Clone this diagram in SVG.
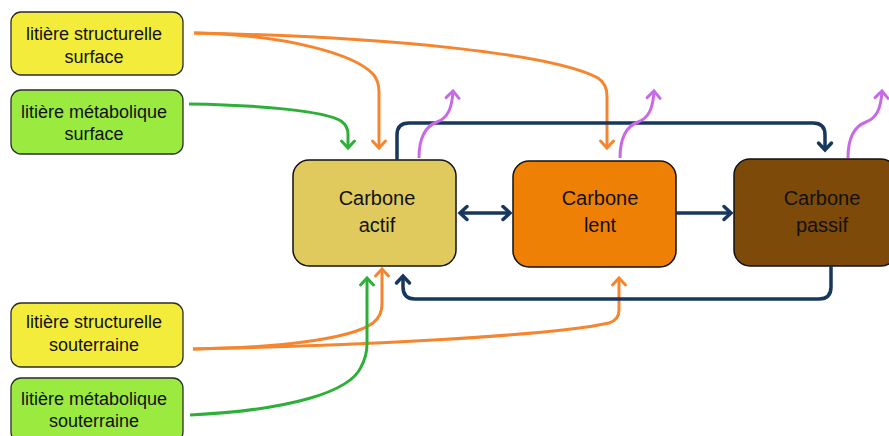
<svg xmlns="http://www.w3.org/2000/svg" width="889" height="436" viewBox="0 0 889 436">
<style>
.lit{stroke:#2b2b2b;stroke-width:1.3}
.ys{fill:#F4EC3A}
.gs{fill:#9AEA3F}
.t{font-family:"Liberation Sans",Arial,sans-serif;font-size:18px;fill:#111;text-anchor:middle}
.tc{font-family:"Liberation Sans",Arial,sans-serif;font-size:20px;fill:#111;text-anchor:middle}
.cb{stroke:#111;stroke-width:1.5}
.c{fill:none;stroke-linecap:butt;stroke-linejoin:round}
.o{stroke:#F5862F;stroke-width:3;marker-end:url(#mo)}
.g{stroke:#2DB038;stroke-width:3;marker-end:url(#mg)}
.n{stroke:#17375E;stroke-width:3.5;marker-end:url(#mn)}
.p{stroke:#C86AE8;stroke-width:3;marker-end:url(#mp)}
</style>
<defs>
<marker id="mo" markerUnits="userSpaceOnUse" viewBox="-10 -9 12 18" refX="0" refY="0" markerWidth="12" markerHeight="18" orient="auto" overflow="visible"><path d="M-7,-6.5 L0,0 L-7,6.5" fill="none" stroke="#F5862F" stroke-width="3" stroke-linecap="round"/></marker>
<marker id="mg" markerUnits="userSpaceOnUse" viewBox="-10 -9 12 18" refX="0" refY="0" markerWidth="12" markerHeight="18" orient="auto" overflow="visible"><path d="M-7,-6.5 L0,0 L-7,6.5" fill="none" stroke="#2DB038" stroke-width="3" stroke-linecap="round"/></marker>
<marker id="mn" markerUnits="userSpaceOnUse" viewBox="-10 -9 12 18" refX="0" refY="0" markerWidth="12" markerHeight="18" orient="auto-start-reverse" overflow="visible"><path d="M-7,-6.5 L0,0 L-7,6.5" fill="none" stroke="#17375E" stroke-width="3.5" stroke-linecap="round"/></marker>
<marker id="mp" markerUnits="userSpaceOnUse" viewBox="-10 -9 12 18" refX="0" refY="0" markerWidth="12" markerHeight="18" orient="auto" overflow="visible"><path d="M-7,-6.5 L0,0 L-7,6.5" fill="none" stroke="#C86AE8" stroke-width="3" stroke-linecap="round"/></marker>
</defs>
<rect width="889" height="436" fill="#fff"/>
<g id="lit-struct-surface"><rect class="lit ys" x="11" y="12" width="172" height="63" rx="10"/><text class="t" x="94" y="40">litière structurelle</text><text class="t" x="94" y="63">surface</text></g>
<g id="lit-meta-surface"><rect class="lit gs" x="11" y="90" width="172" height="64" rx="10"/><text class="t" x="94" y="118">litière métabolique</text><text class="t" x="94" y="140">surface</text></g>
<g id="lit-struct-sout"><rect class="lit ys" x="11" y="303" width="172" height="64" rx="10"/><text class="t" x="94" y="328">litière structurelle</text><text class="t" x="94" y="351">souterraine</text></g>
<g id="lit-meta-sout"><rect class="lit gs" x="11" y="378" width="172" height="64" rx="10"/><text class="t" x="94" y="405">litière métabolique</text><text class="t" x="94" y="427">souterraine</text></g>
<g id="carbone-actif"><rect class="cb" fill="#E0CA5E" x="293" y="160" width="163" height="106" rx="16"/><text class="tc" x="377" y="205">Carbone</text><text class="tc" x="377" y="232">actif</text></g>
<g id="carbone-lent"><rect class="cb" fill="#EE8006" x="513" y="161" width="163" height="106" rx="16"/><text class="tc" x="600" y="205">Carbone</text><text class="tc" x="600" y="232">lent</text></g>
<g id="carbone-passif"><rect class="cb" fill="#7D4A0A" x="734" y="159" width="163" height="107" rx="16"/><text class="tc" x="822" y="205">Carbone</text><text class="tc" x="822" y="232">passif</text></g>
<g id="connectors">
<path class="c o" d="M194,33 C290,35 355,55 373,74 Q379,81 379,92 L379,148"/>
<path class="c o" d="M194,33 C400,37 555,55 598,78 Q607,84 607,96 L607,148"/>
<path class="c g" d="M189,104 C260,105 325,111 341,121 Q348,126 348,134 L348,148"/>
<path class="c o" d="M193,349 C270,348 350,340 373,323 Q382,316 382,304 L382,269"/>
<path class="c o" d="M193,349 C350,346 550,336 609,323 Q619,320 619,310 L619,278"/>
<path class="c g" d="M190,415 C290,410 350,392 361,367 Q367,356 367,344 L367,278"/>
<path class="c n" style="marker-start:url(#mn)" d="M460,213 L510,213"/>
<path class="c n" d="M676,213 L731,213"/>
<path class="c n" d="M397,160 L397,135 Q397,123 409,123 L813,123 Q825,123 825,135 L825,150"/>
<path class="c n" d="M831,266 L831,287 Q831,299 819,299 L415,299 Q403,299 403,287 L403,276"/>
<path class="c p" d="M419,158 C419,138 426,126 437,122 C448,118 452,108 453,91"/>
<path class="c p" d="M620,158 C620,138 627,126 638,122 C649,118 653,108 654,91"/>
<path class="c p" d="M848,158 C848,138 855,126 866,122 C877,118 881,108 882,91"/>
</g>
</svg>
